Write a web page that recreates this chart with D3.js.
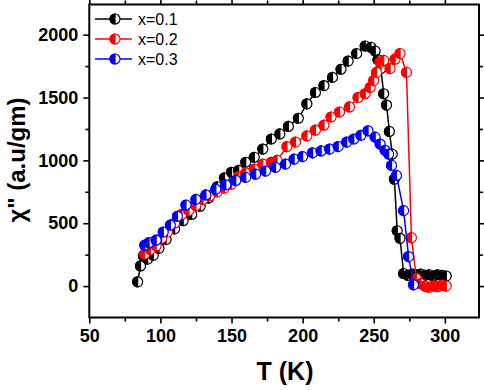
<html>
  <meta charset="utf-8" />
  <script src="https://d3js.org/d3.v7.min.js"></script>
  <style>
    body { margin: 0; background: #fff; }
    text { font-family: "Liberation Sans", Arial, sans-serif; }
  </style>
  <body>
    <div id="chart"></div>
    <script>
      // x=0.1 (black)
      const tempA = [84, 86, 88, 91, 95, 99, 104, 110, 116, 122, 128, 134, 140, 145, 150, 155, 160, 166, 172, 178, 184, 190, 197, 203, 209, 215, 221, 227, 232, 238, 244, 248, 251, 253, 255, 257, 259, 261, 263, 264.5, 266.5, 268.5, 271, 274, 277, 280, 283, 286, 289, 292, 295, 298, 301];
      const chiA = [34, 160, 240, 215, 245, 300, 370, 455, 520, 570, 635, 700, 790, 860, 905, 920, 985, 1025, 1090, 1170, 1210, 1270, 1335, 1450, 1540, 1595, 1660, 1725, 1790, 1850, 1910, 1900, 1870, 1800, 1730, 1530, 1440, 1230, 1050, 850, 440, 380, 100, 85, 95, 90, 95, 85, 90, 80, 90, 85, 80];

      // x=0.2 (red)
      const tempB = [89, 93, 97, 101, 105, 110, 115, 120, 125, 130, 135, 140, 145, 150, 155, 160, 166, 172, 178, 182, 189, 195, 203, 209, 215, 220, 226, 233, 239, 244, 247.5, 250, 252, 254.5, 257, 261.5, 265, 268.5, 273, 276.5, 280, 283, 286, 289, 292, 295, 298, 301];
      const chiB = [255, 290, 320, 380, 430, 500, 570, 600, 640, 690, 720, 750, 780, 810, 870, 900, 930, 970, 985, 1000, 1110, 1145, 1195, 1240, 1280, 1345, 1385, 1425, 1500, 1530, 1580, 1635, 1700, 1780, 1795, 1730, 1805, 1850, 1700, 385, 60, 20, 0, -10, 0, -5, 5, 0];

      // x=0.3 (blue)
      const tempC = [89, 92, 97, 102, 107, 112, 118, 125, 132, 139, 146, 153, 160, 167, 174, 181, 188, 194, 200, 207, 213, 219, 225, 231, 236, 241, 246, 251, 254.5, 258, 260.5, 262.5, 266, 271, 274.5, 278];
      const chiC = [325, 345, 365, 430, 485, 555, 645, 690, 725, 770, 805, 840, 865, 890, 915, 945, 970, 1010, 1030, 1060, 1075, 1090, 1110, 1145, 1170, 1200, 1235, 1185, 1130, 1080, 1050, 960, 880, 600, 235, 10];

      const seriesNames = ["x=0.1", "x=0.2", "x=0.3"];
      const seriesColors = ["#000000", "#ff0000", "#0000ff"];

      const xMajor = [50, 100, 150, 200, 250, 300];
      const xMinor = [75, 125, 175, 225, 275];
      const yMajor = [0, 500, 1000, 1500, 2000];
      const yMinor = [250, 750, 1250, 1750];

      const W = 484, H = 390;
      const svg = d3.select("#chart").append("svg")
        .attr("width", W).attr("height", H);

      const x = d3.scaleLinear().domain([50, 324]).range([89.3, 479]);
      const y = d3.scaleLinear().domain([-250, 2240]).range([317.5, 4.5]);

      const plotLeft = x.range()[0], plotRight = x.range()[1];
      const plotTop = y.range()[1], plotBottom = y.range()[0];

      // axes: major + minor on all four sides
      function styleAxis(g) {
        g.select(".domain").remove();
        g.selectAll(".tick line").attr("stroke", "#000").attr("stroke-width", 1.6);
        g.selectAll(".tick text")
          .attr("font-size", 18).attr("font-weight", "bold").attr("fill", "#000");
      }

      svg.append("g").attr("transform", `translate(0,${plotBottom})`)
        .call(d3.axisBottom(x).tickValues(xMajor).tickSize(6).tickPadding(6).tickFormat(d3.format("d")))
        .call(styleAxis);
      svg.append("g").attr("transform", `translate(0,${plotBottom})`)
        .call(d3.axisBottom(x).tickValues(xMinor).tickSize(4).tickFormat(""))
        .call(styleAxis);
      svg.append("g").attr("transform", `translate(0,${plotTop})`)
        .call(d3.axisTop(x).tickValues(xMajor).tickSize(5).tickFormat(""))
        .call(styleAxis);
      svg.append("g").attr("transform", `translate(0,${plotTop})`)
        .call(d3.axisTop(x).tickValues(xMinor).tickSize(4).tickFormat(""))
        .call(styleAxis);

      svg.append("g").attr("transform", `translate(${plotLeft},0)`)
        .call(d3.axisLeft(y).tickValues(yMajor).tickSize(6).tickPadding(5).tickFormat(d3.format("d")))
        .call(styleAxis);
      svg.append("g").attr("transform", `translate(${plotLeft},0)`)
        .call(d3.axisLeft(y).tickValues(yMinor).tickSize(4).tickFormat(""))
        .call(styleAxis);
      svg.append("g").attr("transform", `translate(${plotRight},0)`)
        .call(d3.axisRight(y).tickValues(yMajor).tickSize(5).tickFormat(""))
        .call(styleAxis);
      svg.append("g").attr("transform", `translate(${plotRight},0)`)
        .call(d3.axisRight(y).tickValues(yMinor).tickSize(4).tickFormat(""))
        .call(styleAxis);

      // frame
      svg.append("rect")
        .attr("x", plotLeft).attr("y", plotTop)
        .attr("width", plotRight - plotLeft).attr("height", plotBottom - plotTop)
        .attr("fill", "none").attr("stroke", "#000").attr("stroke-width", 2);

      // half-filled circle marker (left half coloured)
      const R = 5;
      function halfMarker(g, cx, cy, color) {
        g.append("circle").attr("cx", cx).attr("cy", cy).attr("r", R)
          .attr("fill", "#fff").attr("stroke", color).attr("stroke-width", 1.2);
        g.append("path")
          .attr("d", `M${cx},${cy - R} A${R},${R} 0 0 0 ${cx},${cy + R} Z`)
          .attr("fill", color).attr("stroke", color).attr("stroke-width", 1.2);
      }

      const allSeries = [
        { t: tempA, v: chiA },
        { t: tempB, v: chiB },
        { t: tempC, v: chiC }
      ];

      const line = d3.line().x(d => x(d[0])).y(d => y(d[1]));
      const plot = svg.append("g");

      allSeries.forEach((s, i) => {
        const pts = s.t.map((t, j) => [t, s.v[j]]);
        const g = plot.append("g");
        g.append("path").datum(pts)
          .attr("d", line).attr("fill", "none")
          .attr("stroke", seriesColors[i]).attr("stroke-width", 1.5);
        pts.forEach(p => halfMarker(g, x(p[0]), y(p[1]), seriesColors[i]));
      });

      // legend
      const legend = svg.append("g").attr("transform", "translate(95,19)");
      seriesNames.forEach((name, i) => {
        const row = legend.append("g").attr("transform", `translate(0,${i * 20})`);
        row.append("line").attr("x1", 0).attr("x2", 37).attr("y1", 0).attr("y2", 0)
          .attr("stroke", seriesColors[i]).attr("stroke-width", 1.5);
        halfMarker(row, 20, 0, seriesColors[i]);
        row.append("text").attr("x", 43).attr("y", 6)
          .attr("font-size", 16).attr("fill", "#000").text(name);
      });

      // axis titles
      svg.append("text")
        .attr("x", 285).attr("y", 380)
        .attr("text-anchor", "middle")
        .attr("font-size", 25).attr("font-weight", "bold")
        .text("T (K)");

      svg.append("text")
        .attr("transform", "translate(25,160) rotate(-90)")
        .attr("text-anchor", "middle")
        .attr("font-size", 24).attr("font-weight", "bold")
        .text("χ\" (a.u/gm)");
    </script>
  </body>
</html>
